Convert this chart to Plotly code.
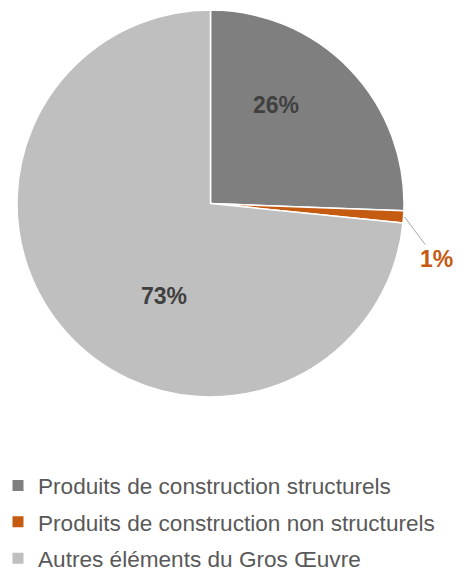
import math
import plotly.graph_objects as go

categories = ["Produits de construction structurels",
              "Produits de construction non structurels",
              "Autres éléments du Gros Œuvre"]
values = [25.6, 1.0, 73.4]
colors = ["#7f7f7f", "#c55a11", "#bfbfbf"]
label_colors = ["#404040", "#c55a11", "#404040"]

W, H = 467, 574
OFF = 8  # browser body margin
# pie geometry in page pixels (reference)
CX, CY, R = 210.5, 203.5, 193.5
cxp, cyp = CX - OFF, CY - OFF

fig = go.Figure()
fig.add_trace(go.Pie(
    labels=categories,
    values=values,
    sort=False,
    direction="clockwise",
    rotation=0,
    marker=dict(colors=colors, line=dict(color="white", width=1.5)),
    textinfo="none",
    hoverinfo="label+percent",
    showlegend=False,
    domain=dict(x=[(cxp - R) / W, (cxp + R) / W],
                y=[1 - (cyp + R) / H, 1 - (cyp - R) / H]),
))

# legend entries
for cat, col in zip(categories, colors):
    fig.add_trace(go.Scatter(
        x=[None], y=[None], mode="markers", name=cat, legendgroup=cat,
        marker=dict(symbol="square", size=11, color=col),
        hoverinfo="skip",
    ))

# percent labels
total = sum(values)
pct_text = [f"<b>{round(v / total * 100):.0f}%</b>" for v in values]
# label offsets (px, relative to pie centre) for the inside labels
inside_offsets = {0: (65.5, -98.5), 2: (-46.5, 92.5)}
for i, (dx, dy) in inside_offsets.items():
    fig.add_annotation(
        x=(cxp + dx) / W, y=1 - (cyp + dy) / H, xref="paper", yref="paper",
        xanchor="center", yanchor="middle",
        text=pct_text[i], showarrow=False,
        font=dict(family="Liberation Sans", size=23, color=label_colors[i]),
    )

# outside label with leader line for the small slice
start = sum(values[:1]) / total
mid = start + values[1] / total / 2
ang = 2 * math.pi * mid
hx = cxp + (R + 1) * math.sin(ang)
hy = cyp - (R + 1) * math.cos(ang)
tx, ty = 436 - OFF, 259 - OFF
fig.add_annotation(
    x=hx / W, y=1 - hy / H, xref="paper", yref="paper",
    ax=tx - hx, ay=ty - hy, axref="pixel", ayref="pixel",
    text=pct_text[1], showarrow=True, arrowhead=0, arrowwidth=1,
    arrowcolor="#a6a6a6", standoff=0, startstandoff=0,
    font=dict(family="Liberation Sans", size=23, color=label_colors[1]),
)

fig.update_layout(
    width=W, height=H,
    margin=dict(l=0, r=0, t=0, b=0, autoexpand=False),
    paper_bgcolor="white",
    plot_bgcolor="white",
    xaxis=dict(visible=False),
    yaxis=dict(visible=False),
    font=dict(family="Liberation Sans", color="#595959"),
    legend=dict(
        orientation="v",
        x=-0.0214, xanchor="left",
        y=0.003, yanchor="bottom",
        font=dict(family="Liberation Sans", size=22.6, color="#595959"),
        itemsizing="trace",
        tracegroupgap=4,
        traceorder="grouped",
    ),
    showlegend=True,
)

fig.write_html("out.html")
